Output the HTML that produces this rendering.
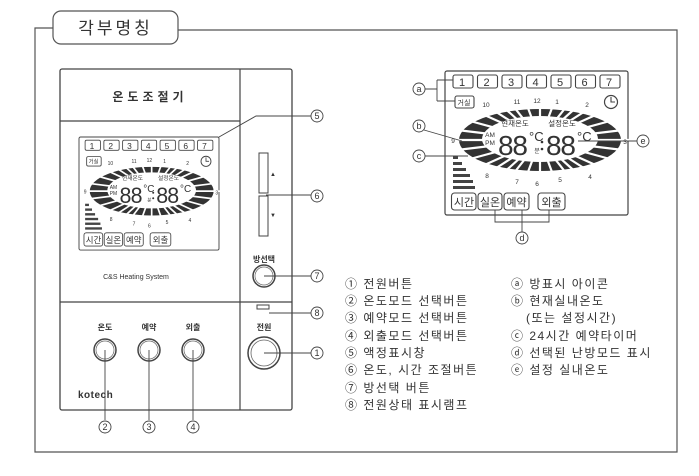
<!DOCTYPE html>
<html><head><meta charset="utf-8"><style>
html,body{margin:0;padding:0;background:#fff;}
svg{display:block;}
text{font-family:"Liberation Sans","Noto Sans CJK KR",sans-serif;fill:#333;}
</style></head><body>
<svg width="699" height="476" viewBox="0 0 699 476" xmlns="http://www.w3.org/2000/svg">
<defs>
<g id="lcd">
  <rect x="0" y="0" width="183" height="144" rx="2" fill="#fff" stroke="#444" stroke-width="1.2"/>
  <g fill="#fff" stroke="#444" stroke-width="1.1">
    <rect x="8" y="4" width="20" height="13" rx="2"/><rect x="32.5" y="4" width="20" height="13" rx="2"/>
    <rect x="57" y="4" width="20" height="13" rx="2"/><rect x="81.5" y="4" width="20" height="13" rx="2"/>
    <rect x="106" y="4" width="20" height="13" rx="2"/><rect x="130.5" y="4" width="20" height="13" rx="2"/>
    <rect x="155" y="4" width="20" height="13" rx="2"/>
    <rect x="10" y="25" width="19" height="12" rx="2"/>
  </g>
  <g font-size="11" text-anchor="middle">
    <text x="17" y="15">1</text><text x="41.5" y="15">2</text><text x="66" y="15">3</text><text x="90.5" y="15">4</text>
    <text x="115" y="15">5</text><text x="139.5" y="15">6</text><text x="164" y="15">7</text>
    <text x="19" y="34" font-size="7">거실</text>
  </g>
  <circle cx="166" cy="31" r="6.5" fill="none" stroke="#444" stroke-width="1.2"/>
  <path d="M166 26V31H170" fill="none" stroke="#444" stroke-width="1.1"/>
  <ellipse cx="95" cy="69" rx="81" ry="31" fill="#333"/>
  <g stroke="#fff" stroke-width="2.2">
    <line x1="5" y1="69" x2="185" y2="69"/>
    <line x1="95" y1="29" x2="95" y2="109"/>
    <line x1="25" y1="50" x2="165" y2="88"/><line x1="25" y1="88" x2="165" y2="50"/>
    <line x1="45" y1="37" x2="145" y2="101"/><line x1="45" y1="101" x2="145" y2="37"/>
    <line x1="65" y1="31" x2="125" y2="107"/><line x1="65" y1="107" x2="125" y2="31"/>
    <line x1="80" y1="29" x2="110" y2="109"/><line x1="80" y1="109" x2="110" y2="29"/>
    <line x1="12" y1="59" x2="178" y2="79"/><line x1="12" y1="79" x2="178" y2="59"/>
    <line x1="35" y1="42" x2="155" y2="96"/><line x1="35" y1="96" x2="155" y2="42"/>
    <line x1="55" y1="33" x2="135" y2="105"/><line x1="55" y1="105" x2="135" y2="33"/>
  </g>
  <ellipse cx="95" cy="68" rx="58" ry="23" fill="#fff"/>
  <g font-size="6.5" text-anchor="middle">
    <text x="41" y="36">10</text><text x="72" y="33">11</text><text x="92" y="32">12</text><text x="112" y="33">1</text>
    <text x="142" y="36">2</text><text x="180" y="73">3</text><text x="145" y="108">4</text><text x="115" y="111">5</text>
    <text x="92" y="115">6</text><text x="72" y="113">7</text><text x="42" y="107">8</text><text x="8" y="72">9</text>
  </g>
  <text x="70" y="55" font-size="7.5" text-anchor="middle">현재온도</text>
  <text x="117" y="55" font-size="7.5" text-anchor="middle">설정온도</text>
  <text x="45" y="66" font-size="6.5" text-anchor="middle">AM</text>
  <text x="45" y="74" font-size="6.5" text-anchor="middle">PM</text>
  <text x="53" y="84" font-size="28" textLength="30">88</text>
  <text x="84" y="70" font-size="13">°C</text>
  <text x="101" y="84" font-size="28" textLength="30">88</text>
  <text x="132" y="70" font-size="13">°C</text>
  <text x="92" y="82" font-size="6" text-anchor="middle">분</text>
  <circle cx="97" cy="71" r="1.3" fill="#333"/><circle cx="97" cy="78" r="1.3" fill="#333"/>
  <g fill="#444">
    <rect x="8" y="85" width="5" height="3"/><rect x="8" y="91" width="9" height="3"/><rect x="8" y="97" width="13" height="3"/>
    <rect x="8" y="103" width="17" height="3"/><rect x="8" y="109" width="20" height="3"/><rect x="8" y="115" width="22" height="3"/>
  </g>
  <g fill="#fff" stroke="#444" stroke-width="1.1">
    <rect x="6.5" y="122" width="24.5" height="17" rx="3"/><rect x="33" y="122" width="24" height="17" rx="3"/>
    <rect x="59" y="122" width="25" height="17" rx="3"/><rect x="93" y="122" width="27" height="17" rx="3"/>
  </g>
  <g font-size="11" text-anchor="middle">
    <text x="19" y="135">시간</text><text x="45" y="135">실온</text><text x="71.5" y="135">예약</text><text x="106.5" y="135">외출</text>
  </g>
</g>
</defs>

<path d="M53 28H35V452H677V30H178" fill="none" stroke="#555" stroke-width="1.2"/>
<rect x="53" y="11" width="125" height="33" rx="8" fill="#fff" stroke="#555" stroke-width="1.2"/>
<text x="115.5" y="34" font-size="17" text-anchor="middle" letter-spacing="3">각부명칭</text>

<rect x="60" y="69" width="232" height="341" rx="2" fill="#fff" stroke="#444" stroke-width="1.3"/>
<line x1="240" y1="69" x2="240" y2="410" stroke="#444" stroke-width="1.2"/>
<line x1="60" y1="121" x2="240" y2="121" stroke="#444" stroke-width="1.2"/>
<line x1="60" y1="302" x2="292" y2="302" stroke="#444" stroke-width="1.2"/>
<text x="150" y="101" font-size="12" font-weight="bold" text-anchor="middle" letter-spacing="4">온도조절기</text>
<use href="#lcd" transform="translate(79,137) scale(0.765,0.785)"/>
<text x="136" y="279" font-size="7" text-anchor="middle">C&amp;S Heating System</text>

<rect x="259" y="153" width="9" height="40" fill="#fff" stroke="#444"/>
<rect x="259" y="196" width="9" height="40" fill="#fff" stroke="#444"/>
<text x="273" y="176" font-size="6" text-anchor="middle">▲</text>
<text x="273" y="217" font-size="6" text-anchor="middle">▼</text>
<text x="264" y="262" font-size="8" font-weight="bold" text-anchor="middle">방선택</text>
<circle cx="264" cy="276" r="11" fill="#fff" stroke="#444" stroke-width="1.5"/>
<circle cx="264" cy="276" r="9" fill="none" stroke="#666" stroke-width="0.7"/>
<rect x="257" y="305" width="12" height="4" fill="#fff" stroke="#444"/>
<text x="264" y="330" font-size="8" font-weight="bold" text-anchor="middle">전원</text>
<circle cx="264" cy="353" r="16" fill="#fff" stroke="#444" stroke-width="1.5"/>
<circle cx="264" cy="353" r="13" fill="none" stroke="#666" stroke-width="0.8"/>

<g font-size="8" font-weight="bold" text-anchor="middle">
<text x="105" y="330">온도</text><text x="149" y="330">예약</text><text x="193" y="330">외출</text>
</g>
<g fill="#fff" stroke="#444" stroke-width="1.5">
<circle cx="105" cy="350" r="11"/><circle cx="149" cy="350" r="11"/><circle cx="193" cy="350" r="11"/>
</g>
<g fill="none" stroke="#666" stroke-width="0.7">
<circle cx="105" cy="350" r="9"/><circle cx="149" cy="350" r="9"/><circle cx="193" cy="350" r="9"/>
</g>
<text x="78" y="398" font-size="10" font-weight="bold" letter-spacing="0.5">kotech</text>

<g stroke="#444" stroke-width="0.9" fill="none">
<path d="M219 137L256 116H311"/>
<path d="M266 195H311"/>
<path d="M264 276H311"/>
<path d="M269 313H311"/>
<path d="M264 353H311"/>
<path d="M105 350V420"/><path d="M149 350V420"/><path d="M193 350V420"/>
</g>
<g fill="#fff" stroke="#444" stroke-width="0.9">
<circle cx="317" cy="116" r="6"/><circle cx="317" cy="196" r="6"/><circle cx="317" cy="276" r="6"/>
<circle cx="317" cy="313" r="6"/><circle cx="317" cy="353" r="6"/>
<circle cx="105" cy="427" r="6"/><circle cx="149" cy="427" r="6"/><circle cx="193" cy="427" r="6"/>
</g>
<g font-size="9" text-anchor="middle">
<text x="317" y="119">5</text><text x="317" y="199">6</text><text x="317" y="279">7</text><text x="317" y="316">8</text><text x="317" y="356">1</text>
<text x="105" y="430">2</text><text x="149" y="430">3</text><text x="193" y="430">4</text>
</g>

<use href="#lcd" transform="translate(445,71)"/>
<g stroke="#444" stroke-width="0.9" fill="none">
<path d="M425 89H437M437 80V101M437 80H453M437 101H455"/>
<path d="M424 130L462 141"/>
<path d="M425 156H468"/>
<path d="M495 210V222H549V210M522 210V232"/>
<path d="M578 141H637"/>
</g>
<g fill="#fff" stroke="#444" stroke-width="0.9">
<circle cx="419" cy="89" r="6"/><circle cx="419" cy="126" r="6"/><circle cx="419" cy="156" r="6"/>
<circle cx="522" cy="238" r="6"/><circle cx="643" cy="141" r="6"/>
</g>
<g font-size="9" text-anchor="middle">
<text x="419" y="92">a</text><text x="419" y="129">b</text><text x="419" y="159">c</text><text x="522" y="241">d</text><text x="643" y="144">e</text>
</g>

<g font-size="12" letter-spacing="1.5" style="fill:#444">
<text x="345" y="288">① 전원버튼</text>
<text x="345" y="305">② 온도모드 선택버튼</text>
<text x="345" y="322">③ 예약모드 선택버튼</text>
<text x="345" y="340">④ 외출모드 선택버튼</text>
<text x="345" y="357">⑤ 액정표시창</text>
<text x="345" y="374">⑥ 온도, 시간 조절버튼</text>
<text x="345" y="392">⑦ 방선택 버튼</text>
<text x="345" y="409">⑧ 전원상태 표시램프</text>
<text x="511" y="288">ⓐ 방표시 아이콘</text>
<text x="511" y="305">ⓑ 현재실내온도</text>
<text x="526" y="322">(또는 설정시간)</text>
<text x="511" y="340">ⓒ 24시간 예약타이머</text>
<text x="511" y="357">ⓓ 선택된 난방모드 표시</text>
<text x="511" y="374">ⓔ 설정 실내온도</text>
</g>
</svg>
</body></html>
